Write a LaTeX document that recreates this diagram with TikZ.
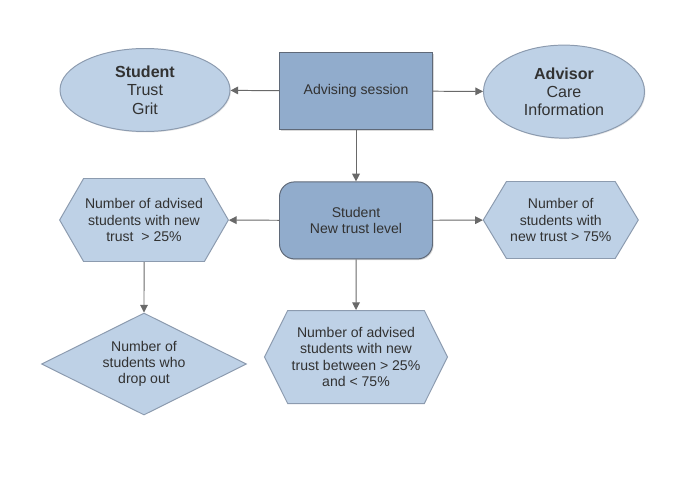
\documentclass[tikz,border=0pt]{standalone}
\usepackage{fontspec}
\setmainfont{Liberation Sans}
\usetikzlibrary{positioning,shapes,shapes.geometric,shapes.symbols,arrows.meta,shadows}

\definecolor{lightblue}{RGB}{190,209,230}
\definecolor{midblue}{RGB}{145,172,204}
\definecolor{edgegray}{RGB}{140,155,175}
\definecolor{darkedge}{RGB}{95,105,120}
\definecolor{linegray}{RGB}{105,105,105}
\definecolor{textgray}{RGB}{50,50,50}

\begin{document}
\begin{tikzpicture}[
  every node/.style={
    text=textgray,
    align=center,
    inner sep=1pt,
    line width=0.7pt,
    font=\fontsize{10}{11.6}\selectfont
  },
  arrow/.style={-{Triangle[length=5.5pt,width=5.5pt]}, draw=linegray, line width=0.7pt},
  oval/.style={ellipse, draw=edgegray, fill=lightblue, font=\fontsize{11.4}{13}\selectfont,
    drop shadow={opacity=0.2, shadow xshift=0.7pt, shadow yshift=-0.7pt}},
  box/.style={rectangle, draw=darkedge, fill=midblue, minimum width=3.825cm, minimum height=1.925cm,
    drop shadow={opacity=0.3, shadow xshift=0.8pt, shadow yshift=-0.8pt}},
  roundbox/.style={box, rounded corners=0.375cm},
  hexa/.style={signal, signal to=east and west, draw=edgegray, fill=lightblue},
  rhomb/.style={diamond, aspect=2, draw=edgegray, fill=lightblue, inner sep=0pt}
]
\useasboundingbox (0,0) rectangle (17.5,-12.175);

% Top row: session with student and advisor
\node[box] (AS) at (8.9,-2.275) {Advising session};
\node[oval, minimum width=4.25cm, minimum height=2.075cm] (ST) at (3.625,-2.25) {\textbf{Student}\\Trust\\Grit};
\node[oval, minimum width=4.025cm, minimum height=2.325cm] (AD) at (14.1,-2.29) {\textbf{Advisor}\\Care\\Information};

% Middle row: new trust level and outcomes
\node[roundbox] (NT) at (8.9,-5.51) {Student\\New trust level};
\node[hexa, minimum width=4.2cm, minimum height=2.075cm, signal pointer angle=120] (H25) at (3.6,-5.5) {Number of advised\\students with new\\trust\ \ > 25\%};
\node[hexa, minimum width=3.875cm, minimum height=1.925cm, signal pointer angle=118] (H75) at (14.02,-5.5) {Number of\\students with\\new trust > 75\%};

% Bottom row
\node[hexa, minimum width=4.575cm, minimum height=2.325cm, signal pointer angle=127] (HM) at (8.9,-8.925) {Number of advised\\students with new\\trust between > 25\%\\and < 75\%};
\node[rhomb, minimum width=5.125cm, minimum height=2.55cm] (DO) at (3.6,-9.1) {Number of\\students who\\drop out};

% Arrows
\draw[arrow] (AS) -- (ST);
\draw[arrow] (AS) -- (AD);
\draw[arrow] (AS) -- (NT);
\draw[arrow] (NT) -- (H25);
\draw[arrow] (NT) -- (H75);
\draw[arrow] (NT) -- (HM);
\draw[arrow] (H25) -- (DO);

\end{tikzpicture}
\end{document}
